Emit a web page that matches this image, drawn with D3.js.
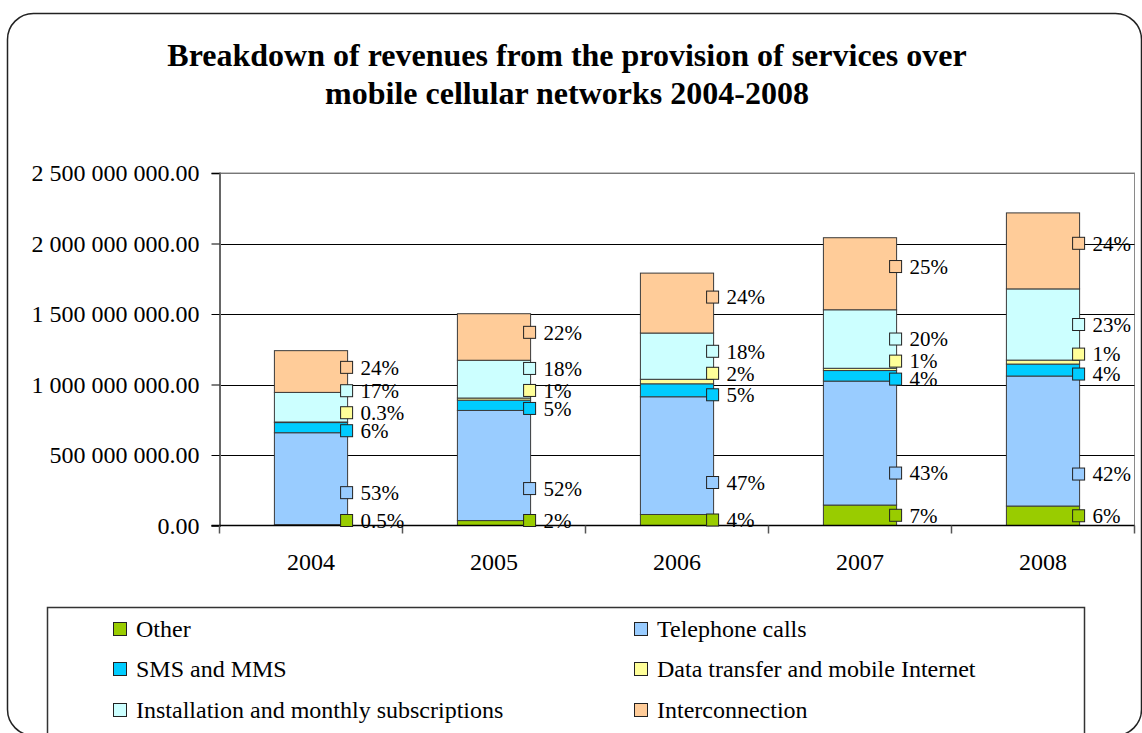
<!DOCTYPE html>
<html>
<head>
<meta charset="utf-8">
<script src="https://cdn.jsdelivr.net/npm/d3@7/dist/d3.min.js"></script>
<style>
  html, body { margin: 0; padding: 0; background: #ffffff; }
  svg { display: block; }
  text { font-family: "Liberation Serif", "Times New Roman", serif; fill: #000; }
</style>
</head>
<body>
<svg id="chart" width="1142" height="733"></svg>
<script>
// Revenue by service type, millions (shown on the axis in full units)
const years = ["2004", "2005", "2006", "2007", "2008"];
const seriesNames = [
  "Other",
  "Telephone calls",
  "SMS and MMS",
  "Data transfer and mobile Internet",
  "Installation and monthly subscriptions",
  "Interconnection"
];
const other        = [6,   35,  78,  145, 138];
const telephone    = [652, 781, 835, 879, 922];
const smsMms       = [72,  73,  92,  75,  85];
const dataInternet = [4,   15,  32,  16,  28];
const installation = [210, 268, 328, 415, 505];
const interconnect = [296, 330, 425, 511, 539];
const yTicks = [0, 500, 1000, 1500, 2000, 2500];

const seriesValues = [other, telephone, smsMms, dataInternet, installation, interconnect];
const colors = ["#99CC00", "#99CCFF", "#00CCFF", "#FFFF99", "#CCFFFF", "#FFCC99"];

// where each series' percentage label prefers to sit inside its segment
// at: 0 = segment bottom, 1 = segment top; lift: extra px upward; gap: min px above previous label
const labelPlacement = [
  { at: 0.5, lift: 0,  gap: 0 },
  { at: 0,   lift: 32, gap: 20 },
  { at: 0,   lift: 2,  gap: 20 },
  { at: 1,   lift: 6,  gap: 18 },
  { at: 0.5, lift: 0,  gap: 22 },
  { at: 0.6, lift: 0,  gap: 22 }
];

const rows = years.map((yr, i) => {
  const r = { year: yr };
  seriesNames.forEach((s, k) => { r[s] = seriesValues[k][i]; });
  return r;
});

const svg = d3.select("#chart");

// outer rounded frame
svg.append("rect")
  .attr("x", 7.5).attr("y", 13.5)
  .attr("width", 1134).attr("height", 722)
  .attr("rx", 26).attr("ry", 26)
  .attr("fill", "#fff").attr("stroke", "#222").attr("stroke-width", 1.5);

// title
const title = svg.append("text")
  .attr("text-anchor", "middle")
  .style("font-weight", "bold")
  .style("font-size", "32px");
title.append("tspan").attr("x", 567).attr("y", 66)
  .text("Breakdown of revenues from the provision of services over");
title.append("tspan").attr("x", 567).attr("y", 104)
  .text("mobile cellular networks 2004-2008");

// plot area
const plot = { left: 219.5, right: 1134.5, top: 173, bottom: 525.5 };

const x = d3.scaleBand()
  .domain(years)
  .range([plot.left, plot.right])
  .paddingInner(0.6)
  .paddingOuter(0.3);

const y = d3.scaleLinear()
  .domain([0, 2500])
  .range([plot.bottom, plot.top]);

const locale = d3.formatLocale({ decimal: ".", thousands: " ", grouping: [3], currency: ["", ""] });
const fmtAxis = locale.format(",.2f");

// plot border
svg.append("rect")
  .attr("x", plot.left).attr("y", plot.top)
  .attr("width", plot.right - plot.left).attr("height", plot.bottom - plot.top)
  .attr("fill", "#fff").attr("stroke", "#8a8a8a").attr("stroke-width", 1);

// horizontal gridlines
svg.append("g")
  .selectAll("line")
  .data(yTicks.filter(t => t > 0))
  .join("line")
  .attr("x1", plot.left).attr("x2", plot.right)
  .attr("y1", d => Math.round(y(d)) + 0.5).attr("y2", d => Math.round(y(d)) + 0.5)
  .attr("stroke", d => d === 2500 ? "#777" : "#000")
  .attr("stroke-width", 1);

// y axis
const yAxis = svg.append("g")
  .attr("transform", `translate(${plot.left},0)`)
  .call(d3.axisLeft(y).tickValues(yTicks).tickSize(8).tickPadding(12)
    .tickFormat(d => fmtAxis(d * 1e6)));
yAxis.select(".domain").attr("stroke", "#666").attr("stroke-width", 2);
yAxis.selectAll(".tick line").attr("stroke", "#000");
yAxis.selectAll(".tick text")
  .style("font-family", "'Liberation Serif', 'Times New Roman', serif")
  .style("font-size", "24px").attr("fill", "#000");

// stacked bars
const stack = d3.stack().keys(seriesNames);
const layers = stack(rows);

svg.append("g")
  .selectAll("g")
  .data(layers)
  .join("g")
  .attr("fill", (d, i) => colors[i])
  .selectAll("rect")
  .data(d => d)
  .join("rect")
  .attr("x", d => x(d.data.year))
  .attr("width", x.bandwidth())
  .attr("y", d => y(d[1]))
  .attr("height", d => y(d[0]) - y(d[1]))
  .attr("stroke", "#3a3a3a")
  .attr("stroke-width", 1);

// x axis
const xAxisLine = svg.append("g");
xAxisLine.append("line")
  .attr("x1", plot.left - 8).attr("x2", plot.right)
  .attr("y1", plot.bottom).attr("y2", plot.bottom)
  .attr("stroke", "#000").attr("stroke-width", 1.5);
xAxisLine.selectAll("line.sep")
  .data(d3.range(years.length + 1))
  .join("line")
  .attr("class", "sep")
  .attr("x1", i => plot.left + i * (plot.right - plot.left) / years.length)
  .attr("x2", i => plot.left + i * (plot.right - plot.left) / years.length)
  .attr("y1", plot.bottom).attr("y2", plot.bottom + 8)
  .attr("stroke", "#555").attr("stroke-width", 1.5);
svg.append("g")
  .selectAll("text")
  .data(years)
  .join("text")
  .attr("x", d => x(d) + x.bandwidth() / 2)
  .attr("y", 562)
  .attr("dy", "0.35em")
  .attr("text-anchor", "middle")
  .style("font-size", "24px")
  .text(d => d);

// percentage labels with a colour key
function fmtPct(p) {
  return Math.round(p) === 0 ? p.toFixed(1) + "%" : Math.round(p) + "%";
}

const labels = [];
years.forEach((yr, i) => {
  const total = d3.sum(seriesValues, s => s[i]);
  let prev = null;
  layers.forEach((layer, k) => {
    const seg = layer[i];
    const yb = y(seg[0]), yt = y(seg[1]);
    const pl = labelPlacement[k];
    let ly = yb + (yt - yb) * pl.at - pl.lift;
    ly = Math.min(ly, plot.bottom - 5);
    if (prev !== null) ly = Math.min(ly, prev - pl.gap);
    prev = ly;
    labels.push({
      xr: x(yr) + x.bandwidth(),
      y: ly,
      color: colors[k],
      text: fmtPct(seriesValues[k][i] / total * 100)
    });
  });
});

const lab = svg.append("g").selectAll("g")
  .data(labels)
  .join("g");
lab.append("rect")
  .attr("x", d => d.xr - 7)
  .attr("y", d => d.y - 6)
  .attr("width", 12).attr("height", 12)
  .attr("fill", d => d.color)
  .attr("stroke", "#222").attr("stroke-width", 1);
lab.append("text")
  .attr("x", d => d.xr + 13)
  .attr("y", d => d.y)
  .attr("dy", "0.35em")
  .style("font-size", "21px")
  .text(d => d.text);

// legend
const legend = svg.append("g");
legend.append("rect")
  .attr("x", 47.5).attr("y", 607.5)
  .attr("width", 1037).attr("height", 140)
  .attr("fill", "#fff").attr("stroke", "#333").attr("stroke-width", 1.5);

const legendCols = [113, 634];
const legendRows = [629, 669, 710];
const items = legend.selectAll("g.item")
  .data(seriesNames)
  .join("g")
  .attr("class", "item")
  .attr("transform", (d, i) => `translate(${legendCols[i % 2]},${legendRows[Math.floor(i / 2)]})`);
items.append("rect")
  .attr("x", 0.5).attr("y", -6.5)
  .attr("width", 13).attr("height", 13)
  .attr("fill", (d, i) => colors[i])
  .attr("stroke", "#222").attr("stroke-width", 1);
items.append("text")
  .attr("x", 23)
  .attr("dy", "0.35em")
  .style("font-size", "24px")
  .text(d => d);
</script>
</body>
</html>
